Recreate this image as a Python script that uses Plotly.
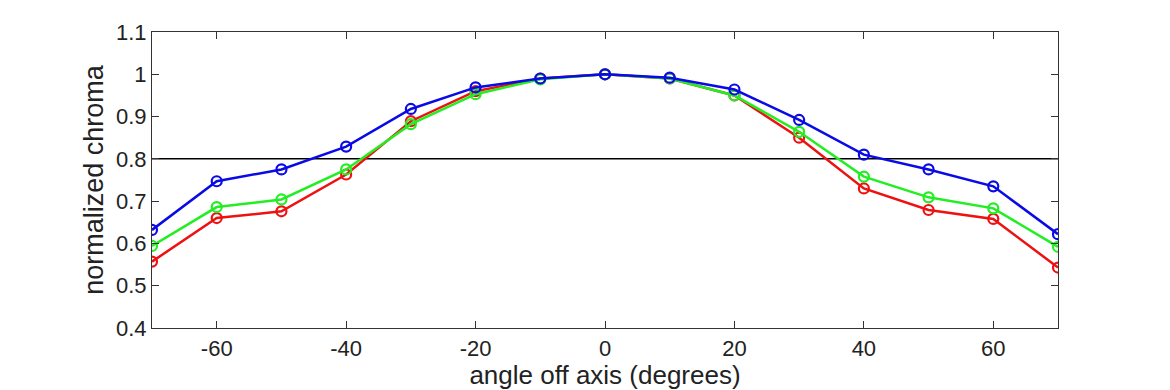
import plotly.graph_objects as go

angles = [-70, -60, -50, -40, -30, -20, -10, 0, 10, 20, 30, 40, 50, 60, 70]
red = [0.557, 0.660, 0.676, 0.763, 0.889, 0.960, 0.990, 1.0, 0.990, 0.950, 0.850, 0.730, 0.679, 0.658, 0.543]
green = [0.594, 0.686, 0.704, 0.775, 0.882, 0.953, 0.988, 1.0, 0.990, 0.950, 0.864, 0.758, 0.709, 0.683, 0.592]
blue = [0.632, 0.747, 0.775, 0.829, 0.918, 0.969, 0.990, 1.0, 0.992, 0.964, 0.892, 0.810, 0.775, 0.735, 0.622]
x_ticks = [-60, -40, -20, 0, 20, 40, 60]
x_tick_text = ["-60", "-40", "-20", "0", "20", "40", "60"]
y_ticks = [0.4, 0.5, 0.6, 0.7, 0.8, 0.9, 1.0, 1.1]
y_tick_text = ["0.4", "0.5", "0.6", "0.7", "0.8", "0.9", "1", "1.1"]
threshold = 0.8

FONT = "Liberation Sans Narrow, Liberation Sans, Arial, sans-serif"

fig = go.Figure()
fig.add_trace(go.Scatter(x=[angles[0], angles[-1]], y=[threshold, threshold], mode="lines",
                         line=dict(color="black", width=1.5), showlegend=False, hoverinfo="skip"))
for vals, col in [(red, "#ee1111"), (green, "#22ee22"), (blue, "#0a0ae6")]:
    fig.add_trace(go.Scatter(x=angles, y=vals, mode="lines+markers",
                             line=dict(color=col, width=2.5),
                             marker=dict(symbol="circle-open", size=10, color=col, line=dict(width=2.2)),
                             showlegend=False))

axis_common = dict(showgrid=False, zeroline=False, showline=True, linecolor="#333333", linewidth=1.2,
                   mirror="ticks", ticks="inside", ticklen=7, tickwidth=1.2, tickcolor="#333333",
                   tickfont=dict(family=FONT, size=22, color="#222222"))
fig.update_xaxes(range=[-70, 70], tickvals=x_ticks, ticktext=x_tick_text,
                 title=dict(text="angle off axis (degrees)", font=dict(family=FONT, size=26, color="#222222"), standoff=2),
                 **axis_common)
fig.update_yaxes(range=[0.4, 1.1], tickvals=y_ticks, ticktext=y_tick_text,
                 title=dict(text="normalized chroma", font=dict(family=FONT, size=27, color="#222222"), standoff=4),
                 **axis_common)
fig.update_layout(width=1170, height=390, margin=dict(l=144, r=120, t=21, b=70),
                  plot_bgcolor="white", paper_bgcolor="white")
fig.write_html("out.html")
